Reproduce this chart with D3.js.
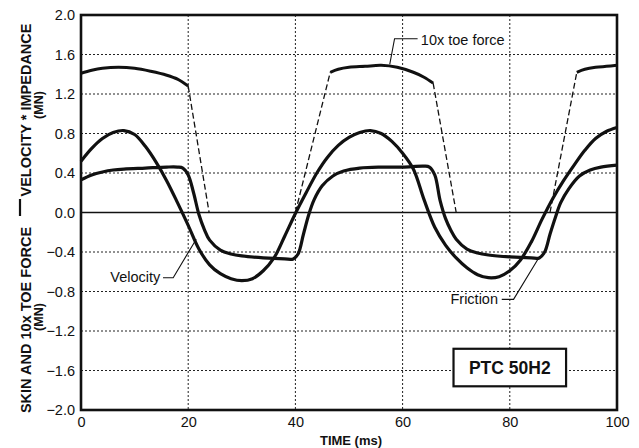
<!DOCTYPE html>
<html>
<head>
<meta charset="utf-8">
<script src="https://cdn.jsdelivr.net/npm/d3@7"></script>
<style>
  body { margin: 0; background: #fff; }
  text { font-family: "Liberation Sans", Arial, Helvetica, sans-serif; fill: #111; }
</style>
</head>
<body>
<div id="chart"></div>
<script>
const width = 639, height = 448;
const margin = {top: 15, right: 22, bottom: 38, left: 81};

// time (ms) / value (MN)
const velTime = [0,2,4,6,8,10,12,14,16,18,20,22,24,26,28,30,32,34,36,38,40,42,44,46,48,50,52,54,56,58,60,62,64,66,68,70,72,74,76,78,80,82,84,86,88,90,92,94,96,98,100];
const velValue = [0.52,0.65,0.75,0.81,0.83,0.79,0.67,0.51,0.32,0.10,-0.13,-0.37,-0.53,-0.62,-0.67,-0.69,-0.67,-0.59,-0.46,-0.24,-0.01,0.20,0.40,0.56,0.68,0.76,0.81,0.83,0.80,0.72,0.60,0.44,0.13,-0.15,-0.33,-0.46,-0.56,-0.63,-0.66,-0.65,-0.59,-0.48,-0.30,-0.07,0.14,0.32,0.48,0.63,0.75,0.82,0.86];

const fricTime = [0,2,4,6,8,12,16,18,19,20,21,22,23,24,26,28,30,34,38,39.6,40.5,41.5,42.5,43.5,45,47,49,52,56,60,64,65,66,67,68,69,70,72,74,76,80,84,85.5,86.5,87.5,88.5,89.5,91,93,95,97,100];
const fricValue = [0.33,0.38,0.41,0.43,0.44,0.45,0.46,0.46,0.45,0.38,0.20,-0.02,-0.17,-0.28,-0.38,-0.42,-0.44,-0.46,-0.47,-0.47,-0.42,-0.22,-0.02,0.13,0.27,0.37,0.42,0.45,0.46,0.46,0.47,0.46,0.38,0.12,-0.06,-0.18,-0.27,-0.37,-0.41,-0.43,-0.45,-0.46,-0.46,-0.40,-0.22,-0.05,0.10,0.24,0.37,0.43,0.46,0.48];

// 10x toe force, measured parts (solid)
const toe1Time = [0,2,4,7,10,13,16,18,20];
const toe1Value = [1.41,1.44,1.46,1.47,1.46,1.43,1.39,1.35,1.28];
const toe2Time = [46.5,48,50,53,56,59,62,64,65.7];
const toe2Value = [1.42,1.45,1.47,1.48,1.49,1.47,1.42,1.37,1.31];
const toe3Time = [92.5,94,96,98,100];
const toe3Value = [1.42,1.45,1.47,1.48,1.49];
// unloading / loading parts (dashed)
const toeDashTime = [[20,23.9],[40,46.5],[65.7,70],[87.5,92.5]];
const toeDashValue = [[1.28,0],[0,1.42],[1.31,0],[0,1.42]];

const xTicks = [0,20,40,60,80,100];
const yTicks = [-2.0,-1.6,-1.2,-0.8,-0.4,0.0,0.4,0.8,1.2,1.6,2.0];

const zip = (t, v) => t.map((d, i) => ({t: d, v: v[i]}));

let svg = d3.select("#chart").append("svg")
    .attr("width", width)
    .attr("height", height);

let x = d3.scaleLinear().domain([0, 100]).range([margin.left, width - margin.right]);
let y = d3.scaleLinear().domain([-2, 2]).range([height - margin.bottom, margin.top]);

// grid
svg.append("g").selectAll("line").data(xTicks.filter(d => d > 0 && d < 100))
    .enter().append("line")
    .attr("x1", d => x(d)).attr("x2", d => x(d))
    .attr("y1", y(2)).attr("y2", y(-2))
    .attr("stroke", "#222").attr("stroke-width", 1).attr("stroke-dasharray", "2,2");
svg.append("g").selectAll("line").data(yTicks.filter(d => d > -2 && d < 2 && d !== 0))
    .enter().append("line")
    .attr("x1", x(0)).attr("x2", x(100))
    .attr("y1", d => y(d)).attr("y2", d => y(d))
    .attr("stroke", "#222").attr("stroke-width", 1).attr("stroke-dasharray", "2,2");
svg.append("line")
    .attr("x1", x(0)).attr("x2", x(100))
    .attr("y1", y(0)).attr("y2", y(0))
    .attr("stroke", "#111").attr("stroke-width", 1.5);

// axes (labels only, the frame is drawn below)
let xAxis = svg.append("g")
    .attr("transform", `translate(0, ${y(-2)})`)
    .call(d3.axisBottom(x).tickValues(xTicks).tickSize(0).tickPadding(7));
let yAxis = svg.append("g")
    .attr("transform", `translate(${x(0)}, 0)`)
    .call(d3.axisLeft(y).tickValues(yTicks).tickSize(0).tickPadding(6).tickFormat(d3.format(".1f")));
[xAxis, yAxis].forEach(a => {
    a.select(".domain").remove();
    a.selectAll("text").style("font-size", "14.5px")
        .style("font-family", "Liberation Sans, Arial, sans-serif").attr("fill", "#111");
});

// data lines
let line = d3.line().x(d => x(d.t)).y(d => y(d.v)).curve(d3.curveCatmullRom.alpha(0.5));

svg.append("path").datum(zip(velTime, velValue))
    .attr("d", line).attr("fill", "none").attr("stroke", "#111").attr("stroke-width", 3.2);
svg.append("path").datum(zip(fricTime, fricValue))
    .attr("d", line).attr("fill", "none").attr("stroke", "#111").attr("stroke-width", 3.2);
[[toe1Time, toe1Value], [toe2Time, toe2Value], [toe3Time, toe3Value]].forEach(s => {
    svg.append("path").datum(zip(s[0], s[1]))
        .attr("d", line).attr("fill", "none").attr("stroke", "#111").attr("stroke-width", 3);
});
toeDashTime.forEach((t, i) => {
    svg.append("path").datum(zip(t, toeDashValue[i]))
        .attr("d", d3.line().x(d => x(d.t)).y(d => y(d.v)))
        .attr("fill", "none").attr("stroke", "#111").attr("stroke-width", 1.3)
        .attr("stroke-dasharray", "6,3");
});

// frame
svg.append("rect")
    .attr("x", x(0)).attr("y", y(2))
    .attr("width", x(100) - x(0)).attr("height", y(-2) - y(2))
    .attr("fill", "none").attr("stroke", "#111").attr("stroke-width", 2.6);

// annotations
let leader = d3.line().x(d => x(d[0])).y(d => y(d[1]));
function note(label, tx, ty, anchor, pts) {
    svg.append("path").attr("d", leader(pts))
        .attr("fill", "none").attr("stroke", "#111").attr("stroke-width", 1.1);
    svg.append("text").attr("x", x(tx)).attr("y", y(ty))
        .attr("text-anchor", anchor).style("font-size", "14.5px").text(label);
}
note("10x toe force", 63.4, 1.70, "start", [[62.8, 1.76], [58.5, 1.76], [57.6, 1.50]]);
note("Velocity", 14.8, -0.70, "end", [[15.3, -0.66], [17.2, -0.66], [21.5, -0.27]]);
note("Friction", 77.8, -0.93, "end", [[78.5, -0.88], [80.7, -0.88], [85.5, -0.45]]);

// PTC 50H2 box
svg.append("rect")
    .attr("x", x(69.5)).attr("y", y(-1.38))
    .attr("width", x(90.5) - x(69.5)).attr("height", y(-1.76) - y(-1.38))
    .attr("fill", "#fff").attr("stroke", "#111").attr("stroke-width", 2.2);
svg.append("text")
    .attr("x", x(80)).attr("y", y(-1.635))
    .attr("text-anchor", "middle")
    .style("font-size", "17.5px").style("font-weight", "bold")
    .text("PTC 50H2");

// axis titles
svg.append("text")
    .attr("x", (x(0) + x(100)) / 2 + 2).attr("y", 445)
    .attr("text-anchor", "middle")
    .style("font-size", "13px").style("font-weight", "bold")
    .text("TIME (ms)");

function vtext(label, cx, cy, size) {
    svg.append("text")
        .attr("transform", `translate(${cx}, ${cy}) rotate(-90)`)
        .attr("text-anchor", "middle")
        .style("font-size", size).style("font-weight", "bold")
        .text(label);
}
vtext("VELOCITY * IMPEDANCE", 31, 110, "14.5px");
vtext("SKIN AND 10x TOE FORCE", 31, 320, "14.5px");
vtext("(MN)", 43, 105, "12.5px");
vtext("(MN)", 43, 317, "12.5px");
svg.append("line")
    .attr("x1", 20).attr("x2", 20).attr("y1", 199).attr("y2", 216)
    .attr("stroke", "#111").attr("stroke-width", 2.2);
</script>
</body>
</html>
